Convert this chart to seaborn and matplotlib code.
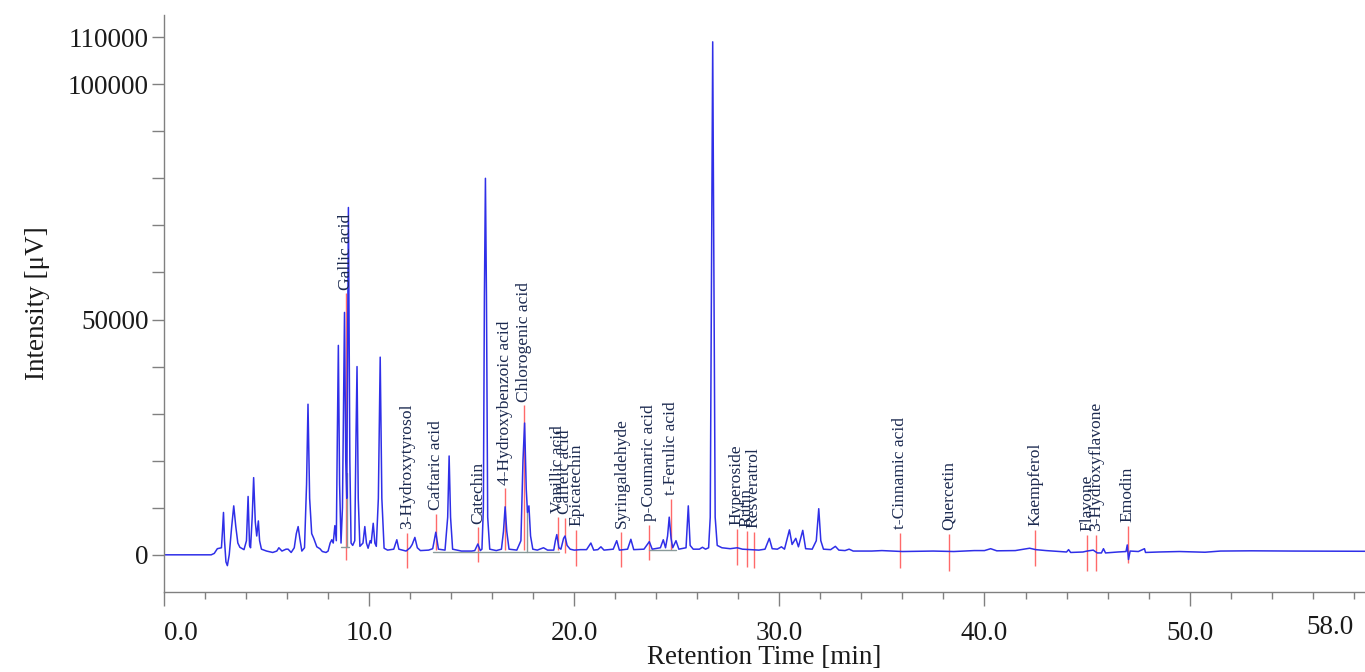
import matplotlib
matplotlib.use("Agg")
import matplotlib.pyplot as plt
import seaborn as sns
import pandas as pd

# ---------------- data ----------------
trace_time = [0.0, 2.3, 2.45, 2.6, 2.8, 2.85, 2.9, 2.95, 3.02, 3.09, 3.18, 3.3, 3.4, 3.5, 3.6, 3.7, 3.9,
              4.02, 4.1, 4.17, 4.22, 4.3, 4.37, 4.45, 4.52, 4.6, 4.66, 4.75, 5.0, 5.3, 5.5, 5.6, 5.75,
              5.95, 6.05, 6.2, 6.35, 6.45, 6.54, 6.62, 6.72, 6.85, 6.95, 7.02, 7.1, 7.2, 7.3, 7.45, 7.6,
              7.72, 7.9, 8.0, 8.1, 8.18, 8.25, 8.33, 8.4, 8.45, 8.5, 8.56, 8.63, 8.7, 8.8, 8.86, 8.91,
              8.99, 9.06, 9.12, 9.2, 9.3, 9.36, 9.41, 9.47, 9.55, 9.7, 9.79, 9.87, 9.95, 10.05, 10.1,
              10.2, 10.28, 10.35, 10.45, 10.54, 10.62, 10.73, 10.9, 11.2, 11.35, 11.45, 11.8, 12.0, 12.1,
              12.23, 12.35, 12.5, 12.9, 13.1, 13.25, 13.38, 13.7, 13.83, 13.9, 13.97, 14.07, 14.5, 15.0,
              15.15, 15.3, 15.42, 15.5, 15.57, 15.62, 15.67, 15.72, 15.78, 15.88, 16.2, 16.45, 16.55,
              16.63, 16.71, 16.82, 17.2, 17.4, 17.5, 17.58, 17.66, 17.72, 17.79, 17.87, 17.98, 18.2,
              18.5, 18.7, 19.0, 19.08, 19.15, 19.25, 19.35, 19.48, 19.55, 19.65, 19.8, 20.0, 20.3, 20.6,
              20.81, 20.95, 21.15, 21.3, 21.45, 21.9, 22.07, 22.2, 22.6, 22.76, 22.9, 23.4, 23.66, 23.8,
              24.2, 24.34, 24.45, 24.55, 24.63, 24.72, 24.8, 24.96, 25.1, 25.45, 25.56, 25.65, 25.8,
              26.1, 26.25, 26.4, 26.55, 26.63, 26.69, 26.75, 26.81, 26.87, 26.97, 27.2, 27.6, 27.95,
              28.2, 28.6, 29.0, 29.3, 29.51, 29.65, 29.9, 30.1, 30.25, 30.49, 30.62, 30.8, 30.93, 31.14,
              31.28, 31.6, 31.8, 31.92, 32.02, 32.15, 32.5, 32.73, 32.9, 33.2, 33.4, 33.6, 34.5, 35.0,
              36.0, 37.5, 38.5, 39.5, 40.0, 40.3, 40.6, 41.5, 42.2, 42.5, 43.0, 44.0, 44.1, 44.2, 44.8,
              45.0, 45.3, 45.5, 45.7, 45.8, 45.9, 46.5, 46.9, 46.96, 47.02, 47.1, 47.5, 47.8, 47.85,
              48.5, 49.5, 50.75, 51.5, 53.0, 55.0, 58.6]
trace_intensity = [0, 0, 300, 1300, 1500, 5000, 9000, 3000, -1500, -2300, 0, 6000, 10400, 6000, 2500, 1600, 1100,
                   3000, 12400, 2000, 1500, 8000, 16400, 7000, 4000, 7200, 3000, 1200, 800, 500, 800, 1500, 800,
                   1200, 1200, 500, 1500, 4500, 6000, 3500, 800, 1500, 15000, 32000, 12000, 4500, 3500, 1700, 1300,
                   700, 500, 800, 2500, 3200, 2500, 6200, 3000, 25000, 44500, 15000, 2500, 10000, 51500, 20000, 12000,
                   73800, 20000, 2500, 2000, 3000, 25000, 40000, 12000, 1800, 2500, 6000, 2500, 1400, 3000, 2500,
                   6700, 2500, 1800, 12000, 42000, 12000, 1400, 1000, 1200, 3200, 1200, 800, 1500, 2200,
                   3700, 1500, 900, 1000, 1300, 4800, 1200, 1000, 8000, 21000, 8000, 1200, 800, 800,
                   900, 2300, 900, 1200, 10000, 55000, 80000, 55000, 8000, 1200, 900, 1200, 5000,
                   10200, 5000, 1200, 1000, 3000, 20000, 28000, 14000, 9000, 10400, 4000, 1200, 1000,
                   1500, 1000, 1000, 3000, 4300, 1500, 1200, 3500, 4000, 2000, 1200, 1000, 1100, 1100,
                   2500, 1000, 1100, 1700, 1000, 1200, 3000, 1000, 1200, 3300, 1100, 1200, 2800, 1200,
                   1500, 3200, 1500, 4000, 8000, 3500, 1500, 3000, 1200, 1500, 10400, 2000, 1200,
                   1200, 1600, 1200, 1500, 8000, 60000, 109000, 60000, 8000, 2000, 1500, 1300, 1500,
                   1200, 1100, 1000, 1200, 3500, 1300, 1200, 1700, 1200, 5300, 2200, 3500, 1700, 5200,
                   1300, 1200, 3000, 9800, 3000, 1200, 1100, 1800, 1000, 900, 1200, 800, 800, 900,
                   700, 800, 700, 900, 900, 1300, 850, 900, 1400, 1100, 900, 600, 1100, 500, 600,
                   800, 1000, 400, 400, 1300, 400, 600, 700, 2100, -1000, 800, 700, 1300, 500,
                   600, 700, 550, 800, 850, 800, 750]

compounds = ["Gallic acid", "3-Hydroxytyrosol", "Caftaric acid", "Catechin", "4-Hydroxybenzoic acid",
             "Chlorogenic acid", "Vanillic acid", "Caffeic acid", "Epicatechin", "Syringaldehyde",
             "p-Coumaric acid", "t-Ferulic acid", "Hyperoside", "Rutin", "Resveratrol",
             "t-Cinnamic acid", "Quercetin", "Kaempferol", "Flavone", "3-Hydroxyflavone", "Emodin"]
compound_rt = [8.86, 11.85, 13.27, 15.30, 16.63, 17.56, 19.20, 19.56, 20.10, 22.30,
               23.66, 24.70, 27.93, 28.40, 28.75, 35.90, 38.28, 42.48, 45.00, 45.43, 46.99]
marker_top = [55600, 4700, 8700, 5900, 14200, 31800, 8100, 7900, 5300, 4900,
              6400, 11900, 5500, 5100, 4900, 4700, 4500, 5300, 4250, 4250, 6150]
marker_bottom = [-1000, -2800, 1000, -1500, 1000, 1000, 1000, 400, -2300, -2500,
                 -1100, 1000, -2100, -2500, -2800, -2800, -3400, -2300, -3400, -3400, -1700]

# integration baselines / drop lines (grey)
integ_x0 = [8.62, 13.09, 23.66, 8.90, 17.72]
integ_x1 = [9.02, 19.27, 24.96, 8.90, 17.72]
integ_y0 = [1760, 700, 1000, 1760, 700]
integ_y1 = [1760, 700, 1000, 17400, 10000]

y_ticks = [0, 10000, 20000, 30000, 40000, 50000, 60000, 70000, 80000, 90000, 100000, 110000]
y_labeled = [0, 50000, 100000, 110000]
x_major = [0, 10, 20, 30, 40, 50]
x_minor = list(range(0, 59, 2))
x_last = 58.0

# ---------------- figure ----------------
sns.set_style("ticks")
plt.rcParams["font.family"] = ["Liberation Serif", "DejaVu Serif"]

fig = plt.figure(figsize=(13.65, 6.72), dpi=100)
ax = fig.add_axes([164 / 1365, 1 - 592 / 672, 1 - 164 / 1365, (592 - 15) / 672])

ax.vlines(compound_rt, marker_bottom, marker_top, colors="#ff6a6a", linewidth=1.0, zorder=1)
for x0, x1, y0, y1 in zip(integ_x0, integ_x1, integ_y0, integ_y1):
    ax.plot([x0, x1], [y0, y1], color="#8a9a9a", linewidth=1.0, zorder=1.5)

df = pd.DataFrame({"t": trace_time, "I": trace_intensity})
sns.lineplot(data=df, x="t", y="I", ax=ax, sort=False, estimator=None,
             color="#2f2fe8", linewidth=1.1, zorder=2)

for name, rt, top in zip(compounds, compound_rt, marker_top):
    ax.annotate(name, xy=(rt, top), xytext=(0, 2.5), textcoords="offset points",
                rotation=90, ha="center", va="bottom", fontsize=12.6,
                color="#1c2a50", zorder=3)

ax.set_xlim(0, 58.55)
ax.set_ylim(-7900, 114700)

ax.set_yticks(y_ticks)
ax.set_yticklabels([str(v) if v in y_labeled else "" for v in y_ticks])
ax.set_xticks(x_major)
ax.set_xticklabels([f"{v:.1f}" for v in x_major])
ax.set_xticks(x_minor, minor=True)
ax.get_xticklabels()[0].set_horizontalalignment("left")

ax.tick_params(axis="y", which="major", length=9, width=1.0, color="#808080",
               labelsize=19.5, pad=2, labelcolor="#1a1a1a")
ax.tick_params(axis="x", which="major", length=10, width=1.0, color="#808080",
               labelsize=19.5, pad=11, labelcolor="#1a1a1a")
ax.tick_params(axis="x", which="minor", length=5, width=1.0, color="#808080")

ax.text(x_last, -0.040, f"{x_last:.1f}", transform=ax.get_xaxis_transform(),
        ha="right", va="top", fontsize=19.5, color="#1a1a1a")

ax.set_xlabel("Retention Time [min]", fontsize=19.5, labelpad=-1, color="#1a1a1a")
ax.set_ylabel("Intensity [\u03bcV]", fontsize=19.5, labelpad=13, color="#1a1a1a")

for side in ["top", "right"]:
    ax.spines[side].set_visible(False)
for side in ["left", "bottom"]:
    ax.spines[side].set_color("#808080")
    ax.spines[side].set_linewidth(1.0)

fig.savefig("out.png", dpi=100)
